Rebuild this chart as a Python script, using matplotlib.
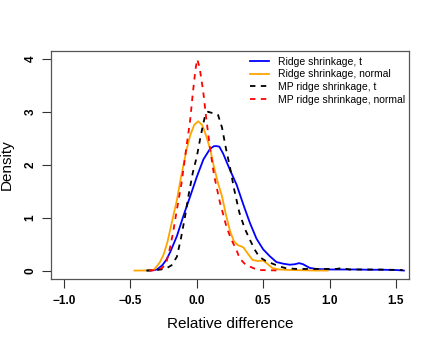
import matplotlib.pyplot as plt

# density curves
ridge_t_x = [-0.37, -0.33, -0.3, -0.26, -0.23, -0.2, -0.15, -0.1, -0.05, 0.0, 0.05, 0.1, 0.13, 0.15, 0.17,
             0.2, 0.25, 0.3, 0.35, 0.4, 0.45, 0.5, 0.55, 0.6, 0.65, 0.7, 0.74, 0.77, 0.8, 0.85, 0.9,
             1.0, 1.1, 1.2, 1.3, 1.4, 1.5, 1.56]
ridge_t_y = [0, 0.005, 0.02, 0.1, 0.2, 0.35, 0.65, 1.04, 1.4, 1.77, 2.1, 2.3, 2.35, 2.35, 2.34,
             2.2, 1.9, 1.62, 1.25, 0.9, 0.6, 0.4, 0.27, 0.16, 0.13, 0.11, 0.12, 0.14, 0.12, 0.05, 0.03,
             0.02, 0.02, 0.02, 0.015, 0.015, 0.01, 0.0]

ridge_n_x = [-0.47, -0.4, -0.35, -0.32, -0.28, -0.25, -0.22, -0.18, -0.15, -0.12, -0.08, -0.05, -0.02,
             0.01, 0.04, 0.07, 0.1, 0.13, 0.16, 0.19, 0.22, 0.25, 0.28, 0.31, 0.35, 0.39, 0.42, 0.46,
             0.5, 0.53, 0.57, 0.62, 0.7, 0.8, 0.9, 0.985]
ridge_n_y = [0, 0.0, 0.005, 0.02, 0.15, 0.3, 0.55, 1.0, 1.33, 1.75, 2.25, 2.55, 2.75,
             2.82, 2.75, 2.55, 2.3, 1.95, 1.65, 1.4, 1.05, 0.75, 0.55, 0.48, 0.44, 0.3, 0.2, 0.18,
             0.19, 0.13, 0.045, 0.02, 0.01, 0.005, 0.0, 0.0]

mp_t_x = [-0.38, -0.32, -0.27, -0.23, -0.19, -0.15, -0.12, -0.09, -0.06, -0.03, 0.0, 0.03, 0.06, 0.085,
          0.11, 0.14, 0.16, 0.19, 0.22, 0.25, 0.28, 0.32, 0.36, 0.4, 0.44, 0.47, 0.52, 0.57, 0.62,
          0.67, 0.75, 0.85, 0.95, 1.05, 1.09, 1.15, 1.25, 1.35, 1.45, 1.55]
mp_t_y = [0, 0.005, 0.02, 0.04, 0.1, 0.26, 0.6, 1.0, 1.45, 1.85, 2.15, 2.55, 2.9, 3.0,
          2.98, 2.96, 2.94, 2.7, 2.3, 1.95, 1.55, 1.1, 0.8, 0.58, 0.38, 0.26, 0.18, 0.13, 0.08,
          0.045, 0.03, 0.03, 0.03, 0.03, 0.045, 0.02, 0.02, 0.02, 0.015, 0.01]

mp_n_x = [-0.36, -0.3, -0.26, -0.23, -0.2, -0.18, -0.15, -0.115, -0.08, -0.05, -0.03, -0.01, 0.003,
          0.02, 0.047, 0.07, 0.098, 0.13, 0.173, 0.2, 0.223, 0.25, 0.273, 0.3, 0.323, 0.36, 0.4,
          0.44, 0.47, 0.55, 0.64]
mp_n_y = [0, 0.01, 0.05, 0.14, 0.45, 0.7, 1.15, 1.65, 2.3, 2.84, 3.35, 3.8, 3.99,
          3.85, 3.41, 2.9, 2.34, 1.8, 1.3, 1.05, 0.83, 0.65, 0.52, 0.38, 0.23, 0.13, 0.075,
          0.03, 0.01, 0.005, 0.0]

x_ticks = [-1.0, -0.5, 0.0, 0.5, 1.0, 1.5]
y_ticks = [0, 1, 2, 3, 4]

plt.rcParams['font.family'] = 'Liberation Sans'

fig = plt.figure(figsize=(4.36, 3.43), dpi=100)
ax = fig.add_axes([0.117, 0.187, 0.821, 0.664])

ax.plot(ridge_t_x, ridge_t_y, color='#0000FF', lw=1.3, label='Ridge shrinkage, t')
ax.plot(ridge_n_x, ridge_n_y, color='#FFA500', lw=1.3, label='Ridge shrinkage, normal')
ax.plot(mp_t_x, mp_t_y, color='black', lw=1.3, ls=(0, (3, 3)), label='MP ridge shrinkage, t')
ax.plot(mp_n_x, mp_n_y, color='#FF0000', lw=1.3, ls=(0, (3, 3)), label='MP ridge shrinkage, normal')

ax.set_xlim(-1.098, 1.598)
ax.set_ylim(-0.157, 4.145)
ax.set_xticks(x_ticks)
ax.set_xticklabels([('%.1f' % v).replace('-', '\u2212') for v in x_ticks],
                   fontweight='bold', fontsize=8.5)
ax.set_yticks(y_ticks)
ax.set_yticklabels([str(v) for v in y_ticks], fontweight='bold', fontsize=8.5,
                   rotation=90, va='center')
ax.tick_params(direction='out', length=6.5, width=0.8, color='#333333')
ax.tick_params(axis='x', pad=5)
ax.tick_params(axis='y', pad=4)
for s in ax.spines.values():
    s.set_color('#555555')
    s.set_linewidth(0.9)

ax.set_xlabel('Relative difference', fontsize=11, labelpad=7)
ax.set_ylabel('Density', fontsize=11, labelpad=8)

ax.legend(loc='upper left', bbox_to_anchor=(0.556, 0.975), frameon=False, fontsize=7.5,
          handlelength=1.8, handletextpad=0.9, labelspacing=0.25, borderpad=0, borderaxespad=0)

fig.savefig('out.png', dpi=100)
